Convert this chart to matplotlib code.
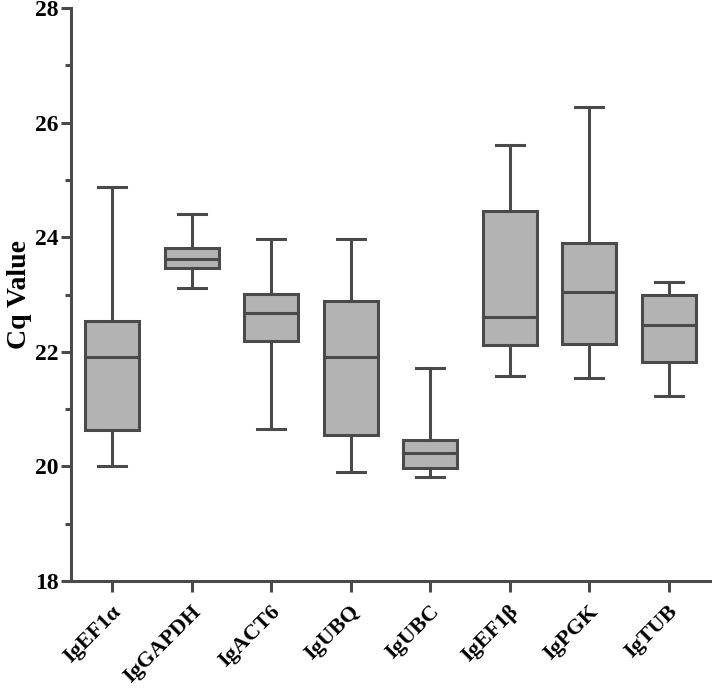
import numpy as np
import matplotlib.pyplot as plt
import matplotlib.transforms as mtransforms
from matplotlib.ticker import MultipleLocator

genes = ["IgEF1\u03b1", "IgGAPDH", "IgACT6", "IgUBQ", "IgUBC", "IgEF1\u03b2", "IgPGK", "IgTUB"]
mins = [20.00, 23.11, 20.65, 19.91, 19.82, 21.58, 21.54, 21.22]
q1s = [20.64, 23.47, 22.18, 20.54, 19.97, 22.11, 22.13, 21.82]
medians = [21.91, 23.62, 22.68, 21.91, 20.23, 22.61, 23.04, 22.47]
q3s = [22.54, 23.81, 23.01, 22.89, 20.46, 24.46, 23.90, 23.00]
maxs = [24.88, 24.41, 23.96, 23.97, 21.71, 25.61, 26.28, 23.21]

plt.rcParams['font.family'] = ['Liberation Serif', 'DejaVu Serif']
plt.rcParams['font.weight'] = 'bold'

edge = '#4a4a4a'
fill = '#b3b3b3'

stats = []
for i, g in enumerate(genes):
    stats.append({'label': g, 'whislo': mins[i], 'q1': q1s[i], 'med': medians[i],
                  'q3': q3s[i], 'whishi': maxs[i], 'fliers': []})

fig = plt.figure(figsize=(7.12, 6.91), dpi=100)
ax = fig.add_axes([0.0997, 0.1592, 0.8975, 0.8292])

lw = 2.2
ax.bxp(stats, positions=np.arange(len(genes)), widths=0.68, patch_artist=True,
       showfliers=False,
       boxprops=dict(facecolor=fill, edgecolor=edge, linewidth=lw),
       medianprops=dict(color=edge, linewidth=lw),
       whiskerprops=dict(color=edge, linewidth=lw),
       capprops=dict(color=edge, linewidth=lw),
       capwidths=0.35)

ax.set_xlim(-0.52, 7.52)
ax.set_ylim(18, 28)
ax.yaxis.set_major_locator(MultipleLocator(2))
ax.yaxis.set_minor_locator(MultipleLocator(1))

for s in ['top', 'right']:
    ax.spines[s].set_visible(False)
for s in ['left', 'bottom']:
    ax.spines[s].set_color(edge)
    ax.spines[s].set_linewidth(lw)

ax.tick_params(axis='y', which='major', length=7, width=lw, color=edge,
               labelsize=17, pad=2)
ax.tick_params(axis='x', which='major', length=8, width=lw, color=edge,
               labelsize=16)
ax.tick_params(axis='y', which='minor', length=4, width=lw, color=edge)

ax.set_xticks(np.arange(len(genes)))
ax.set_xticklabels(genes, rotation=45, ha='right', va='center',
                   rotation_mode='anchor', fontsize=16, fontweight='bold')
offset = mtransforms.ScaledTranslation(6 / 100, -12 / 100, fig.dpi_scale_trans)
for lab in ax.get_xticklabels():
    lab.set_transform(lab.get_transform() + offset)
for lab in ax.get_yticklabels():
    lab.set_fontweight('bold')

ax.set_ylabel("Cq Value", fontsize=20, fontweight='bold', labelpad=2)

fig.savefig("out.png", dpi=100)
